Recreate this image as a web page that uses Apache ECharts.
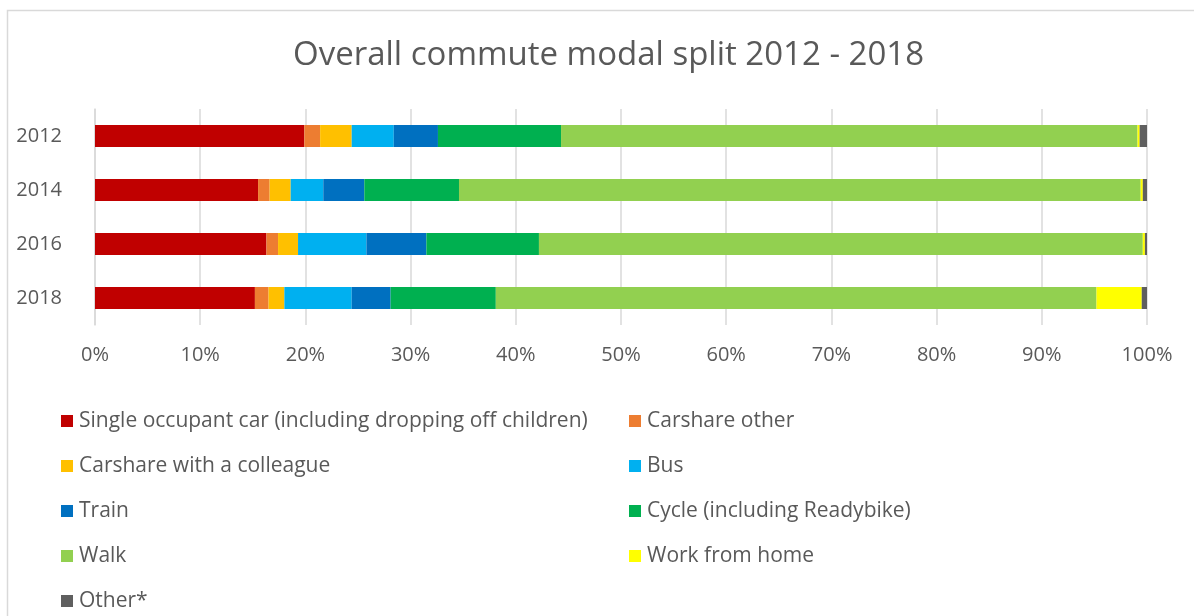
<!DOCTYPE html>
<html>
<head>
<meta charset="utf-8">
<script src="https://cdn.jsdelivr.net/npm/echarts@6/dist/echarts.min.js"></script>
<style>
  html, body { margin: 0; padding: 0; background: #fff; }
  #chart { width: 1194px; height: 616px; }
</style>
</head>
<body>
<div id="chart"></div>
<script>
// Commute modal split by survey year (percent of respondents)
const years = ['2012', '2014', '2016', '2018'];
const xTicks = [0, 10, 20, 30, 40, 50, 60, 70, 80, 90, 100];

const singleCar   = [19.9, 15.5, 16.3, 15.2];
const carshareOth = [1.5, 1.1, 1.1, 1.3];
const carshareCol = [3.0, 2.0, 1.9, 1.5];
const bus         = [4.0, 3.1, 6.5, 6.4];
const train       = [4.2, 3.9, 5.7, 3.7];
const cycle       = [11.7, 9.0, 10.7, 10.0];
const walk        = [54.8, 64.8, 57.4, 57.1];
const workHome    = [0.2, 0.2, 0.2, 4.3];
const other       = [0.7, 0.4, 0.2, 0.5];

const modes = [
  { name: 'Single occupant car (including dropping off children)', data: singleCar, color: '#C00000' },
  { name: 'Carshare other', data: carshareOth, color: '#ED7D31' },
  { name: 'Carshare with a colleague', data: carshareCol, color: '#FFC000' },
  { name: 'Bus', data: bus, color: '#00B0F0' },
  { name: 'Train', data: train, color: '#0070C0' },
  { name: 'Cycle (including Readybike)', data: cycle, color: '#00B050' },
  { name: 'Walk', data: walk, color: '#92D050' },
  { name: 'Work from home', data: workHome, color: '#FFFF00' },
  { name: 'Other*', data: other, color: '#5F5F5F' }
];

const FONT = '"Open Sans", sans-serif';
const TEXT = '#595959';

const legendBase = {
  orient: 'vertical',
  icon: 'rect',
  itemWidth: 12,
  itemHeight: 12,
  itemGap: 23,
  height: 260,
  padding: 0,
  textStyle: { fontFamily: FONT, fontSize: 21, color: TEXT, lineHeight: 22, padding: [0, 0, 0, 1] },
  selectedMode: false
};

const chart = echarts.init(document.getElementById('chart'), null, { renderer: 'canvas' });
chart.setOption({
  backgroundColor: '#ffffff',
  animation: false,
  title: {
    text: 'Overall commute modal split 2012 - 2018',
    left: 288,
    top: 34,
    textStyle: { fontFamily: FONT, fontSize: 33, fontWeight: 'normal', color: TEXT }
  },
  graphic: [{
    type: 'rect',
    shape: { x: 7.5, y: 10.5, width: 1300, height: 700 },
    style: { fill: 'none', stroke: '#D9D9D9', lineWidth: 1.5 },
    silent: true
  }],
  legend: [
    Object.assign({}, legendBase, {
      left: 61, top: 410,
      data: [modes[0].name, modes[2].name, modes[4].name, modes[6].name, modes[8].name]
    }),
    Object.assign({}, legendBase, {
      left: 629, top: 410,
      data: [modes[1].name, modes[3].name, modes[5].name, modes[7].name]
    })
  ],
  grid: { left: 95, right: 47, top: 109, height: 216, containLabel: false },
  xAxis: {
    type: 'value',
    min: 0, max: 100, interval: 10,
    axisLine: { show: false },
    axisTick: { show: false },
    splitLine: { lineStyle: { color: '#D9D9D9', width: 1.5 } },
    axisLabel: {
      fontFamily: FONT, fontSize: 20, color: TEXT, margin: 20,
      formatter: v => (xTicks.indexOf(v) >= 0 ? v + '%' : '')
    }
  },
  yAxis: {
    type: 'category',
    inverse: true,
    data: years,
    axisLine: { show: true, lineStyle: { color: '#D9D9D9', width: 1.5 } },
    axisTick: { show: false },
    axisLabel: { fontFamily: FONT, fontSize: 20, color: TEXT, margin: 33 }
  },
  series: modes.map(m => ({
    name: m.name,
    type: 'bar',
    stack: 'total',
    barWidth: 22,
    data: m.data,
    itemStyle: { color: m.color },
    emphasis: { disabled: true }
  }))
});
</script>
</body>
</html>
